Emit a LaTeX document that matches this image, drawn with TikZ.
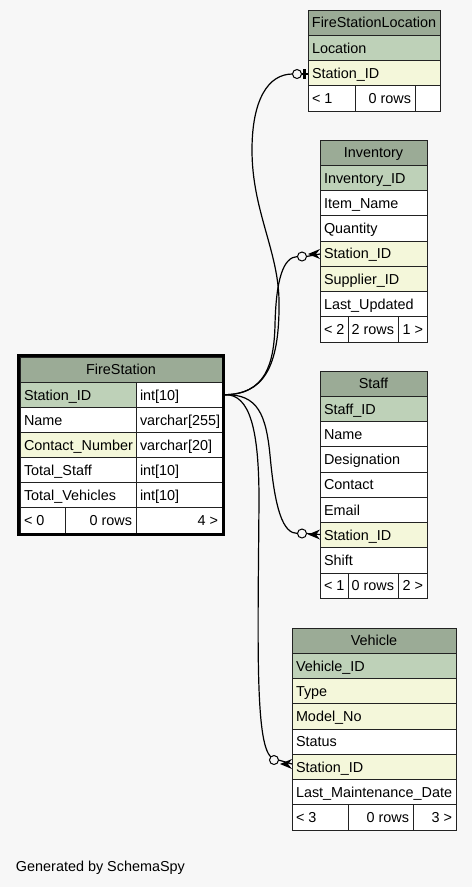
\documentclass[tikz,border=0pt]{standalone}
\usepackage{fontspec}
\setmainfont{Liberation Sans}
\usetikzlibrary{calc}
\definecolor{bg}{HTML}{F7F7F7}
\definecolor{hdr}{HTML}{9BAB96}
\definecolor{pk}{HTML}{BED1B8}
\definecolor{fk}{HTML}{F4F7DA}
\definecolor{ln}{HTML}{222222}
\tikzset{
  cellbox/.style={draw=ln, line width=0.9pt, inner sep=0pt, outer sep=0pt, anchor=north west},
  txt/.style={font=\fontsize{14.4}{17}\selectfont, inner sep=0pt, outer sep=0pt, text=black},
  edge/.style={line width=1.2pt, draw=black},
  ring/.style={circle, draw=black, line width=1pt, fill=bg, minimum size=9pt, inner sep=0pt, outer sep=0pt},
  crowfill/.style={fill=black},
}
\newcommand\rowL[7]{%
  \node[cellbox,fill=#6,minimum width=#4pt,minimum height=#5pt] (#1) at (#2,#3) {};
  \node[txt,anchor=base west] (#1-t) at ([shift={(4,-7.3)}]#1.south west) {#7};}
\newcommand\rowC[7]{%
  \node[cellbox,fill=#6,minimum width=#4pt,minimum height=#5pt] (#1) at (#2,#3) {};
  \node[txt,anchor=base] (#1-t) at ([shift={(0,-7.3)}]#1.south) {#7};}
\newcommand\rowR[7]{%
  \node[cellbox,fill=#6,minimum width=#4pt,minimum height=#5pt] (#1) at (#2,#3) {};
  \node[txt,anchor=base east] (#1-t) at ([shift={(-4,-7.3)}]#1.south east) {#7};}
% crow foot: #1 = point on the table edge
\newcommand\crowat[1]{%
  \fill[crowfill] ($(#1)+(-12,0)$) -- ($(#1)+(0,-5)$) -- ($(#1)+(-4,0)$) -- ($(#1)+(0,5)$) -- cycle;}
\begin{document}
\begin{tikzpicture}[x=1pt,y=-1pt]
\fill[bg] (0,0) rectangle (472,887);
\useasboundingbox (0,0) rectangle (472,887);

% ---------------- FireStationLocation
\rowC{fsl-h}{308}{10}{132}{25.25}{hdr}{FireStationLocation}
\rowL{fsl-loc}{308}{35.25}{132}{25.25}{pk}{Location}
\rowL{fsl-sid}{308}{60.5}{132}{25.25}{fk}{Station\_ID}
\rowL{fsl-f1}{308}{85.75}{47}{25.25}{white}{< 1}
\rowR{fsl-f2}{355}{85.75}{60}{25.25}{white}{0 rows}
\rowR{fsl-f3}{415}{85.75}{25}{25.25}{white}{}

% ---------------- Inventory
\rowC{inv-h}{320}{140}{107}{25.25}{hdr}{Inventory}
\rowL{inv-id}{320}{165.25}{107}{25.25}{pk}{Inventory\_ID}
\rowL{inv-name}{320}{190.5}{107}{25.25}{white}{Item\_Name}
\rowL{inv-qty}{320}{215.75}{107}{25.25}{white}{Quantity}
\rowL{inv-sid}{320}{241}{107}{25.25}{fk}{Station\_ID}
\rowL{inv-sup}{320}{266.25}{107}{25.25}{fk}{Supplier\_ID}
\rowL{inv-upd}{320}{291.5}{107}{25.25}{white}{Last\_Updated}
\rowL{inv-f1}{320}{316.75}{28}{25.25}{white}{< 2}
\rowR{inv-f2}{348}{316.75}{50}{25.25}{white}{2 rows}
\rowR{inv-f3}{398}{316.75}{29}{25.25}{white}{1 >}

% ---------------- Staff
\rowC{st-h}{320}{371}{107}{25.25}{hdr}{Staff}
\rowL{st-id}{320}{396.25}{107}{25.25}{pk}{Staff\_ID}
\rowL{st-name}{320}{421.5}{107}{25.25}{white}{Name}
\rowL{st-des}{320}{446.75}{107}{25.25}{white}{Designation}
\rowL{st-con}{320}{472}{107}{25.25}{white}{Contact}
\rowL{st-mail}{320}{497.25}{107}{25.25}{white}{Email}
\rowL{st-sid}{320}{522.5}{107}{25.25}{fk}{Station\_ID}
\rowL{st-shift}{320}{547.75}{107}{25.25}{white}{Shift}
\rowL{st-f1}{320}{573}{28}{25.25}{white}{< 1}
\rowR{st-f2}{348}{573}{50}{25.25}{white}{0 rows}
\rowR{st-f3}{398}{573}{29}{25.25}{white}{2 >}

% ---------------- Vehicle
\rowC{ve-h}{292}{628}{164}{25.25}{hdr}{Vehicle}
\rowL{ve-id}{292}{653.25}{164}{25.25}{pk}{Vehicle\_ID}
\rowL{ve-type}{292}{678.5}{164}{25.25}{fk}{Type}
\rowL{ve-model}{292}{703.75}{164}{25.25}{fk}{Model\_No}
\rowL{ve-status}{292}{729}{164}{25.25}{white}{Status}
\rowL{ve-sid}{292}{754.25}{164}{25.25}{fk}{Station\_ID}
\rowL{ve-maint}{292}{779.5}{164}{25.25}{white}{Last\_Maintenance\_Date}
\rowL{ve-f1}{292}{804.75}{56}{25.25}{white}{< 3}
\rowR{ve-f2}{348}{804.75}{65}{25.25}{white}{0 rows}
\rowR{ve-f3}{413}{804.75}{43}{25.25}{white}{3 >}

% ---------------- FireStation
\rowC{fs-h}{20}{357}{202}{25.15}{hdr}{FireStation}
\rowL{fs-sid}{20}{382.15}{116}{25.15}{pk}{Station\_ID}
\rowL{fs-sidtype}{136}{382.15}{86}{25.15}{white}{int[10]}
\rowL{fs-name}{20}{407.3}{116}{25.15}{white}{Name}
\rowL{fs-nametype}{136}{407.3}{86}{25.15}{white}{varchar[255]}
\rowL{fs-cn}{20}{432.45}{116}{25.15}{fk}{Contact\_Number}
\rowL{fs-cntype}{136}{432.45}{86}{25.15}{white}{varchar[20]}
\rowL{fs-ts}{20}{457.6}{116}{25.15}{white}{Total\_Staff}
\rowL{fs-tstype}{136}{457.6}{86}{25.15}{white}{int[10]}
\rowL{fs-tv}{20}{482.75}{116}{25.15}{white}{Total\_Vehicles}
\rowL{fs-tvtype}{136}{482.75}{86}{25.15}{white}{int[10]}
\rowL{fs-f1}{20}{507.9}{45}{25.15}{white}{< 0}
\rowR{fs-f2}{65}{507.9}{71}{25.15}{white}{0 rows}
\rowR{fs-f3}{136}{507.9}{86}{25.15}{white}{4 >}
\node[draw=black, line width=3pt, minimum width=205pt, minimum height=179pt,
      inner sep=0pt, outer sep=0pt, anchor=north west] (fs) at (18.5,355.5) {};
\coordinate (src) at ([xshift=1.5pt]fs.east |- fs-sidtype.east);

% ---------------- rings
\node[ring] (c1) at (297,74) {};
\node[ring] (c2) at (302,256.5) {};
\node[ring] (c3) at (302,533.5) {};
\node[ring] (c4) at (274,760) {};

% ---------------- connectors
\draw[edge] (src) .. controls (262,394) and (280,370) .. (279,300)
  .. controls (278,250) and (252,210) .. (252,150)
  .. controls (252,100) and (268,74) .. (c1.west);
\draw[edge] (src) .. controls (265,394) and (274,365) .. (275,325)
  .. controls (276,280) and (283,257) .. (c2.west);
\draw[edge] (src) .. controls (258,394) and (266,415) .. (270,455)
  .. controls (275,510) and (283,533.5) .. (c3.west);
\draw[edge] (src) .. controls (250,394) and (259,430) .. (259,500)
  .. controls (258,640) and (255,742) .. (c4.135);

% ---------------- end markers
\coordinate (e1) at (c1.east -| fsl-sid.west);
\draw[edge] (c1.east) -- (e1);
\draw[line width=2.6pt] ($(e1)+(-3.5,-5)$) -- ($(e1)+(-3.5,5)$);

\coordinate (e2) at ([yshift=2.5pt]c2.east -| inv-sid.west);
\draw[edge] (c2.east) -- (e2);
\crowat{e2}

\coordinate (e3) at ([yshift=-1pt]c3.east -| st-sid.west);
\draw[edge] (c3.east) -- (e3);
\crowat{e3}

\coordinate (e4) at ([yshift=-4pt]c4.east -| ve-sid.west);
\draw[edge] (c4.east) -- (e4);
\crowat{e4}

\node[txt,anchor=base west] (gen) at (16,871) {Generated by SchemaSpy};
\end{tikzpicture}
\end{document}
